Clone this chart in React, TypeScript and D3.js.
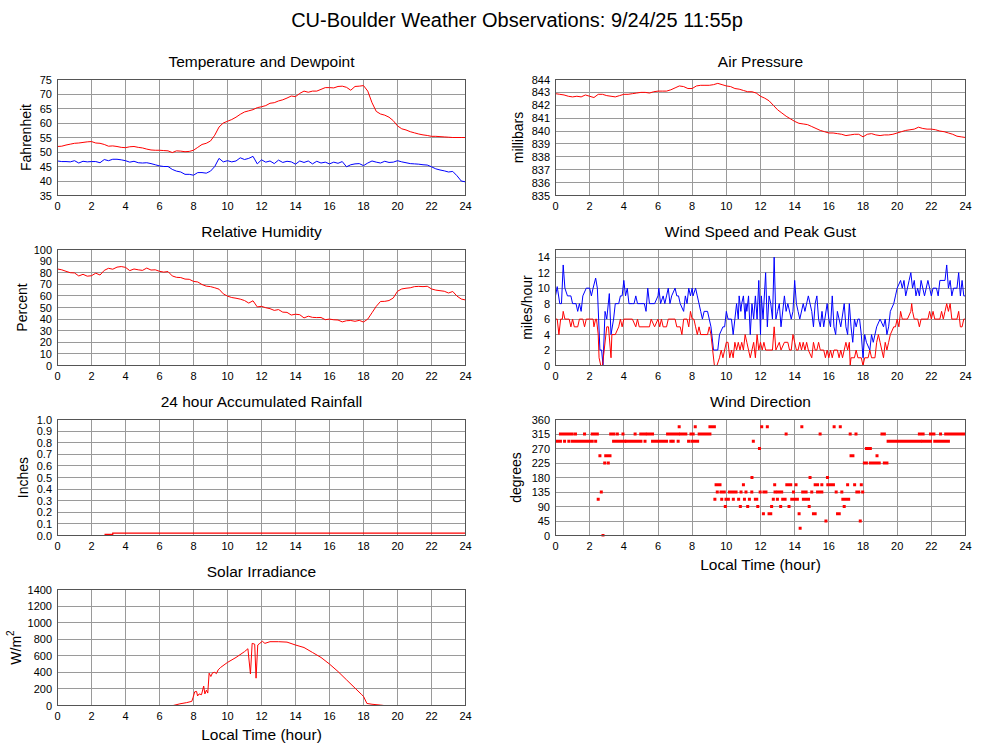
import React from 'react';
import * as d3 from 'd3';

// ---------- DATA ----------
const TITLE = 'CU-Boulder Weather Observations: 9/24/25 11:55p';
const HOUR_TICKS = [0, 2, 4, 6, 8, 10, 12, 14, 16, 18, 20, 22, 24];
const STEP = 0.25; // hours between samples of the smooth series

const temperature = [
  51.9, 52.0, 52.4, 52.7, 53.0, 53.1, 53.3, 53.5, 53.6, 53.1, 53.0, 52.6, 52.0, 52.1, 51.9, 51.6,
  51.5, 51.8, 51.9, 51.6, 51.4, 51.0, 50.7, 50.6, 50.6, 50.5, 50.4, 49.8, 50.4, 50.3, 50.1, 50.2,
  50.6, 51.6, 52.6, 53.0, 53.8, 55.8, 58.6, 60.0, 60.6, 61.2, 62.0, 63.0, 63.8, 64.2, 64.6, 65.3,
  65.6, 66.0, 66.8, 67.0, 67.6, 68.0, 68.6, 69.3, 69.1, 70.2, 71.0, 70.6, 71.0, 71.0, 71.6, 72.2,
  72.2, 72.1, 72.6, 72.7, 72.3, 71.3, 72.6, 72.7, 72.9, 71.0, 67.0, 64.0, 63.1, 62.7, 62.0, 60.8,
  59.0, 58.0, 57.6, 57.0, 56.6, 56.2, 55.9, 55.7, 55.4, 55.4, 55.3, 55.2, 55.1, 55.0, 55.0, 55.0, 55.0,
];

const dewpoint = [
  46.9, 46.7, 46.7, 46.6, 47.0, 46.2, 46.8, 46.6, 46.7, 46.7, 46.3, 47.4, 47.0, 47.5, 47.5, 47.3,
  47.0, 46.5, 46.8, 46.3, 46.2, 46.3, 46.0, 45.6, 45.2, 45.0, 45.0, 44.0, 43.4, 43.1, 42.3, 42.3,
  42.0, 42.9, 42.9, 42.7, 43.4, 45.0, 47.8, 46.6, 47.0, 46.6, 46.9, 48.0, 47.4, 47.8, 48.5, 45.9,
  47.3, 46.5, 46.9, 46.0, 47.2, 46.4, 46.8, 46.6, 45.8, 46.9, 46.4, 46.9, 45.9, 46.8, 46.2, 46.5,
  45.9, 46.5, 46.1, 46.7, 44.9, 45.6, 45.9, 46.0, 45.3, 46.2, 46.9, 46.5, 46.2, 46.8, 46.4, 46.5,
  47.0, 46.6, 46.3, 46.0, 45.9, 45.8, 45.6, 45.5, 44.9, 44.2, 43.8, 43.5, 43.1, 43.3, 41.8, 40.0, 39.7,
];

const pressure = [
  842.9, 842.85, 842.8, 842.7, 842.65, 842.7, 842.65, 842.8, 842.7, 842.6, 842.85, 842.85, 842.75, 842.7, 842.65, 842.75,
  842.85, 842.85, 842.9, 842.95, 843.0, 843.0, 842.95, 843.05, 843.1, 843.1, 843.1, 843.2, 843.35, 843.5, 843.45, 843.3,
  843.3, 843.5, 843.55, 843.55, 843.55, 843.6, 843.7, 843.6, 843.5, 843.45, 843.3, 843.25, 843.15, 843.05, 843.05, 842.95,
  842.7, 842.55, 842.35, 842.0, 841.65, 841.4, 841.15, 840.95, 840.75, 840.6, 840.55, 840.5, 840.35, 840.2, 840.05, 839.95,
  839.85, 839.85, 839.8, 839.75, 839.65, 839.7, 839.75, 839.75, 839.55, 839.75, 839.8, 839.7, 839.65, 839.7, 839.7, 839.75,
  839.85, 839.95, 840.05, 840.1, 840.15, 840.3, 840.2, 840.15, 840.15, 840.1, 840.0, 839.95, 839.85, 839.75, 839.6, 839.55, 839.5,
];

const humidity = [
  83.2, 82.5, 81.2, 80.0, 79.8, 77.2, 78.6, 77.0, 77.4, 79.6, 78.0, 82.0, 83.8, 83.0, 84.8, 85.3,
  84.6, 81.8, 83.2, 82.5, 82.0, 84.0, 82.3, 82.5, 81.2, 80.5, 81.0, 77.2, 76.0, 75.8, 74.5, 74.3,
  72.5, 72.0, 69.8, 68.4, 68.0, 67.0, 65.8, 61.8, 59.8, 58.6, 58.0, 57.2, 56.0, 53.8, 55.8, 50.5,
  51.0, 49.8, 49.0, 47.5, 48.2, 46.0, 45.8, 43.5, 44.2, 43.8, 41.0, 42.5, 41.5, 41.3, 41.4, 39.5,
  40.0, 39.4, 39.2, 37.6, 38.6, 38.8, 38.1, 38.9, 37.5, 40.0, 45.5, 51.0, 55.2, 55.3, 56.0, 58.2,
  64.0, 66.0, 66.6, 67.0, 68.0, 68.2, 68.0, 68.3, 66.0, 65.0, 64.5, 64.0, 62.5, 63.8, 59.8, 57.3, 56.5,
];

// [hour, mph]
const windGust: [number, number][] = [
  [0, 9], [0.1, 10.2], [0.25, 8], [0.35, 8], [0.45, 13], [0.55, 10], [0.7, 9], [0.9, 9], [1.0, 8], [1.2, 8],
  [1.3, 7], [1.4, 8], [1.5, 7], [1.6, 9], [1.8, 10], [2.0, 10], [2.1, 9], [2.2, 10], [2.35, 11.3], [2.45, 10],
  [2.6, 2], [2.7, 2], [2.78, 0], [2.9, 7], [3.0, 6], [3.15, 9.3], [3.25, 4], [3.4, 6], [3.5, 8], [3.7, 8],
  [3.8, 9], [3.9, 9], [4.0, 11], [4.1, 9], [4.2, 10], [4.3, 8], [4.5, 8], [4.6, 8], [4.7, 9], [4.8, 8],
  [5.0, 8], [5.2, 8], [5.3, 7], [5.4, 10], [5.5, 8], [5.8, 8], [6.0, 9], [6.05, 10], [6.15, 8], [6.3, 9],
  [6.4, 8], [6.5, 9], [6.6, 10], [6.7, 8], [6.8, 9], [7.0, 10], [7.1, 9], [7.2, 9], [7.3, 8], [7.5, 7],
  [7.6, 9], [7.7, 8], [7.8, 10], [7.9, 9], [8.0, 10], [8.05, 9], [8.2, 10], [8.3, 9], [8.4, 8], [8.5, 7],
  [8.6, 6], [8.7, 7], [8.9, 7], [9.0, 6], [9.1, 5], [9.25, 2], [9.5, 2], [9.6, 4], [9.8, 5], [9.9, 5],
  [10.0, 7], [10.1, 6], [10.3, 6], [10.4, 4], [10.5, 6], [10.6, 8], [10.7, 6], [10.75, 9], [10.85, 7], [10.9, 8],
  [11.0, 9], [11.1, 6], [11.15, 8], [11.2, 7], [11.3, 9], [11.4, 4], [11.5, 8], [11.6, 6], [11.7, 9], [11.8, 6],
  [11.9, 11], [12.0, 4], [12.05, 9], [12.15, 6], [12.3, 12], [12.4, 5], [12.5, 9], [12.6, 8], [12.7, 6], [12.8, 14],
  [12.9, 6], [13.0, 7], [13.1, 8], [13.2, 5], [13.4, 9], [13.5, 7], [13.6, 8], [13.8, 6], [13.9, 7], [14.0, 11],
  [14.1, 8], [14.2, 7], [14.3, 6], [14.5, 8], [14.6, 7], [14.8, 9], [15.0, 7], [15.1, 5], [15.2, 8], [15.3, 9],
  [15.4, 6], [15.5, 5], [15.6, 7], [15.7, 5], [15.9, 8], [16.0, 6], [16.1, 5], [16.2, 9], [16.3, 5], [16.4, 4],
  [16.5, 7], [16.6, 6], [16.7, 5], [16.9, 8], [17.0, 5], [17.1, 4], [17.2, 8], [17.3, 5], [17.4, 3], [17.5, 6],
  [17.6, 5], [17.7, 6], [17.8, 6], [17.9, 4], [18.0, 1], [18.1, 4], [18.2, 3], [18.4, 2], [18.5, 4], [18.6, 3],
  [18.8, 5], [19.0, 6], [19.2, 5], [19.3, 6], [19.4, 4], [19.5, 5], [19.6, 7], [19.8, 8], [19.9, 9], [20.0, 10],
  [20.2, 11], [20.3, 10], [20.4, 11], [20.5, 9], [20.7, 11], [20.8, 12], [20.9, 10], [21.0, 11], [21.1, 9], [21.2, 10],
  [21.3, 9], [21.4, 11], [21.5, 10], [21.6, 9], [21.8, 11], [21.9, 10], [22.0, 9], [22.1, 10], [22.3, 10], [22.4, 9],
  [22.5, 11], [22.8, 11], [22.9, 13], [23.0, 10], [23.1, 11], [23.2, 9], [23.3, 10], [23.5, 10], [23.6, 12], [23.7, 9],
  [23.8, 11], [23.9, 9], [24.0, 9],
];

const windSpeed: [number, number][] = [
  [0, 6], [0.1, 6], [0.2, 4], [0.3, 6], [0.4, 6], [0.45, 7], [0.55, 6], [0.8, 6], [0.9, 5], [1.0, 6],
  [1.1, 5], [1.3, 5], [1.4, 6], [1.6, 6], [1.7, 5], [1.8, 6], [2.0, 6], [2.2, 6], [2.25, 5], [2.35, 6],
  [2.4, 6], [2.5, 4], [2.55, 1], [2.65, 0], [2.75, 0], [2.85, 2], [3.0, 5], [3.1, 5], [3.25, 1], [3.3, 4],
  [3.5, 4], [3.7, 5], [3.8, 6], [3.9, 5], [4.0, 6], [4.5, 6], [4.7, 5], [4.8, 6], [4.9, 5], [5.5, 5],
  [5.6, 6], [5.8, 5], [6.0, 6], [6.1, 5], [6.2, 6], [6.3, 5], [6.5, 5], [6.6, 6], [7.0, 6], [7.1, 5],
  [7.3, 5], [7.4, 4], [7.5, 6], [7.7, 6], [7.8, 5], [7.9, 7], [8.0, 6], [8.1, 6], [8.2, 5], [8.3, 4],
  [8.4, 5], [8.5, 4], [8.9, 4], [9.0, 5], [9.1, 4], [9.2, 2], [9.3, 0], [9.45, 0], [9.6, 1], [9.7, 2],
  [9.8, 1], [9.9, 2], [10.0, 3], [10.1, 3], [10.2, 1], [10.3, 2], [10.4, 1], [10.5, 3], [10.6, 2], [10.7, 3],
  [10.8, 2], [10.9, 3], [11.0, 2], [11.1, 4], [11.2, 3], [11.3, 2], [11.4, 1], [11.5, 2], [11.6, 3], [11.7, 1],
  [11.8, 4], [11.9, 2], [12.0, 3], [12.1, 2], [12.2, 3], [12.3, 2], [12.5, 2], [12.7, 2], [12.8, 5], [12.9, 2],
  [13.1, 3], [13.2, 2], [13.4, 3], [13.6, 3], [13.7, 2], [13.8, 2], [13.9, 4], [14.0, 3], [14.1, 2], [14.2, 2],
  [14.3, 3], [14.4, 2], [14.5, 3], [14.6, 2], [14.7, 3], [14.8, 2], [15.0, 1], [15.1, 3], [15.2, 2], [15.3, 2],
  [15.4, 3], [15.5, 2], [15.7, 2], [15.8, 1], [15.9, 2], [16.0, 1], [16.1, 2], [16.2, 1], [16.3, 2], [16.5, 2],
  [16.6, 1], [16.7, 2], [16.8, 1], [17.0, 3], [17.1, 2], [17.2, 3], [17.25, 0], [17.3, 1], [17.5, 1], [17.6, 2],
  [17.7, 1], [17.9, 1], [18.0, 0], [18.1, 1], [18.3, 1], [18.4, 2], [18.5, 1], [18.7, 1], [18.8, 3], [18.9, 4],
  [19.0, 3], [19.1, 2], [19.2, 1], [19.3, 3], [19.4, 2], [19.5, 3], [19.6, 4], [19.8, 5], [19.9, 5], [20.0, 6],
  [20.1, 5], [20.2, 7], [20.3, 6], [20.5, 6], [20.6, 6], [20.8, 7], [20.85, 8], [20.9, 7], [21.0, 6], [21.2, 6],
  [21.3, 5], [21.4, 6], [21.8, 6], [21.9, 7], [22.0, 6], [22.1, 7], [22.2, 6], [22.5, 6], [22.6, 7], [22.7, 6],
  [22.8, 7], [22.9, 8], [23.0, 7], [23.1, 8], [23.2, 6], [23.5, 6], [23.6, 7], [23.7, 5], [23.8, 5], [23.9, 6],
  [24.0, 6],
];

// observed wind direction: [start hour, end hour, degrees] (one observation when start == end)
const windDirection: [number, number, number][] = [
  [0, 0.29, 292.5], [0.53, 0.53, 292.5], [0.78, 0.78, 292.5], [0.98, 2.15, 292.5], [2.35, 2.35, 292.5],
  [3.4, 4.05, 292.5], [4.15, 5.0, 292.5], [5.24, 5.24, 292.5], [5.68, 6.5, 292.5], [6.75, 6.75, 292.5],
  [6.89, 6.89, 292.5], [7.18, 7.18, 292.5], [7.79, 7.79, 292.5], [7.98, 8.32, 292.5], [11.58, 11.58, 292.5],
  [19.47, 21.36, 292.5], [21.5, 21.95, 292.5], [22.2, 23.0, 292.5],
  [0.29, 0.98, 315], [1.17, 1.17, 315], [1.7, 1.7, 315], [2.15, 2.45, 315], [3.23, 3.42, 315], [3.62, 3.62, 315],
  [3.95, 3.95, 315], [4.66, 4.66, 315], [4.99, 5.24, 315], [5.38, 5.68, 315], [6.56, 7.2, 315], [7.34, 7.63, 315],
  [7.93, 8.06, 315], [8.41, 9.04, 315], [13.5, 13.5, 315], [15.49, 15.49, 315], [17.25, 17.25, 315],
  [17.59, 17.59, 315], [19.11, 19.25, 315], [21.3, 21.52, 315], [21.95, 22.15, 315], [22.54, 22.54, 315],
  [22.84, 24, 315],
  [7.24, 7.24, 337.5], [8.18, 8.18, 337.5], [9.04, 9.3, 337.5], [12.07, 12.07, 337.5], [12.4, 12.4, 337.5],
  [14.42, 14.42, 337.5], [16.31, 16.31, 337.5], [16.67, 16.67, 337.5],
  [11.94, 11.94, 270], [18.2, 18.43, 270],
  [2.6, 2.6, 247.5], [2.94, 3.19, 247.5], [17.3, 17.41, 247.5], [18.82, 18.82, 247.5],
  [2.88, 2.88, 225], [3.09, 3.09, 225], [18.08, 18.2, 225], [18.43, 18.95, 225], [19.25, 19.4, 225],
  [11.5, 11.5, 180], [14.9, 14.9, 180], [15.92, 15.92, 180],
  [9.4, 9.63, 157.5], [11.0, 11.0, 157.5], [12.83, 12.83, 157.5], [13.54, 13.77, 157.5], [14.08, 14.08, 157.5],
  [15.2, 15.34, 157.5], [15.59, 15.59, 157.5], [15.94, 16.27, 157.5], [17.1, 17.1, 157.5], [17.51, 17.51, 157.5],
  [17.9, 17.9, 157.5],
  [2.68, 2.68, 135], [9.47, 9.47, 135], [9.69, 9.88, 135], [10.18, 10.57, 135], [10.86, 10.86, 135],
  [11.15, 11.15, 135], [11.49, 11.49, 135], [11.98, 11.98, 135], [12.2, 12.32, 135], [12.85, 12.85, 135],
  [13.0, 13.24, 135], [13.93, 13.93, 135], [14.47, 14.67, 135], [15.0, 15.0, 135], [15.34, 15.59, 135],
  [16.43, 16.43, 135], [16.76, 16.76, 135], [17.64, 17.75, 135], [17.98, 17.98, 135],
  [2.5, 2.5, 112.5], [9.33, 9.33, 112.5], [9.73, 9.73, 112.5], [9.98, 10.12, 112.5], [10.41, 10.41, 112.5],
  [10.72, 10.72, 112.5], [11.06, 11.06, 112.5], [11.35, 11.35, 112.5], [11.7, 11.78, 112.5], [12.75, 12.75, 112.5],
  [12.99, 12.99, 112.5], [13.3, 13.44, 112.5], [13.83, 14.16, 112.5], [14.51, 14.81, 112.5], [16.82, 17.16, 112.5],
  [9.94, 9.94, 90], [10.82, 10.82, 90], [11.25, 11.25, 90], [11.84, 11.84, 90], [12.65, 12.65, 90],
  [13.18, 13.18, 90], [13.67, 13.67, 90], [14.85, 14.85, 90], [16.9, 16.9, 90],
  [12.17, 12.17, 67.5], [12.5, 12.6, 67.5], [14.26, 14.26, 67.5], [15.1, 15.2, 67.5], [16.51, 16.61, 67.5],
  [15.83, 15.83, 45], [17.84, 17.84, 45],
  [14.32, 14.32, 22.5],
  [2.78, 2.78, 0],
];

const rainHours = [0, 2.8, 3.25, 24];
const rainInches = [0, 0.01, 0.02, 0.02];

// [hour, W/m2]
const solar: [number, number][] = [
  [0, 0], [6.8, 0], [7.2, 20], [7.6, 35], [7.9, 50], [7.98, 100], [8.07, 165], [8.18, 170], [8.24, 115],
  [8.33, 140], [8.47, 130], [8.6, 235], [8.67, 140], [8.76, 185], [8.84, 150], [8.92, 390], [9.02, 350],
  [9.12, 395], [9.25, 400], [9.35, 385], [9.45, 430], [9.6, 460], [10.0, 520], [10.5, 580], [11.0, 650],
  [11.2, 685], [11.35, 380], [11.45, 750], [11.6, 740], [11.68, 330], [11.78, 730], [11.9, 750], [12.05, 775],
  [12.2, 750], [12.5, 770], [13.0, 770], [13.5, 765], [14.0, 730], [14.5, 700], [15.0, 640], [15.5, 580],
  [16.0, 500], [16.5, 410], [17.0, 310], [17.5, 210], [17.9, 130], [18.0, 110], [18.2, 25], [18.5, 15],
  [19.0, 5], [19.2, 0], [24, 0],
];

// ---------- LAYOUT ----------
const FONT = '"Liberation Sans", Arial, Helvetica, sans-serif';
const COLS = [
  { left: 57.5, right: 465.5 },
  { left: 555.5, right: 965.5 },
];
const ROW_TOPS = [79.5, 249.5, 419.5, 589.5];
const PANEL_H = 116;
const GRID = '#9a9a9a';
const FRAME = '#555';

type PanelProps = {
  col: number;
  row: number;
  title: string;
  yDomain: [number, number];
  yTicks: number[];
  yFmt?: (v: number) => string;
  yLabel: React.ReactNode;
  yLabelX: number;
  xLabel?: boolean;
  children: (x: d3.ScaleLinear<number, number>, y: d3.ScaleLinear<number, number>) => React.ReactNode;
};

function Panel({ col, row, title, yDomain, yTicks, yFmt, yLabel, yLabelX, xLabel, children }: PanelProps) {
  const { left, right } = COLS[col];
  const top = ROW_TOPS[row];
  const bottom = top + PANEL_H;
  const x = d3.scaleLinear().domain([0, 24]).range([left, right]);
  const y = d3.scaleLinear().domain(yDomain).range([bottom, top]);
  const fmt = yFmt || ((v: number) => String(v));
  const crisp = (v: number) => Math.round(v - 0.5) + 0.5;
  const cx = (left + right) / 2;
  const clipId = `clip-${col}-${row}`;
  return (
    <g>
      <defs>
        <clipPath id={clipId}>
          <rect x={left} y={top - 1} width={right - left} height={PANEL_H + 2} />
        </clipPath>
      </defs>
      <text x={cx} y={top - 13} textAnchor="middle" fontSize={15.5} fontFamily={FONT} fill="#000">
        {title}
      </text>
      {yTicks.map((t) => (
        <line key={`h${t}`} x1={left} x2={right} y1={crisp(y(t))} y2={crisp(y(t))} stroke={GRID} strokeWidth={1} />
      ))}
      {HOUR_TICKS.map((t) => (
        <line key={`v${t}`} x1={crisp(x(t))} x2={crisp(x(t))} y1={top} y2={bottom} stroke={GRID} strokeWidth={1} />
      ))}
      <g clipPath={`url(#${clipId})`}>{children(x, y)}</g>
      <rect x={left} y={top} width={right - left} height={PANEL_H} fill="none" stroke={FRAME} strokeWidth={1} />
      {yTicks.map((t) => (
        <text key={`yl${t}`} x={left - 5.5} y={y(t) + 4} textAnchor="end" fontSize={11} fontFamily={FONT} fill="#000">
          {fmt(t)}
        </text>
      ))}
      {HOUR_TICKS.map((t) => (
        <text key={`xl${t}`} x={x(t)} y={bottom + 14} textAnchor="middle" fontSize={11} fontFamily={FONT} fill="#000">
          {t}
        </text>
      ))}
      <text
        transform={`translate(${yLabelX},${(top + bottom) / 2}) rotate(-90)`}
        textAnchor="middle"
        dominantBaseline="central"
        fontSize={14}
        fontFamily={FONT}
        fill="#000"
      >
        {yLabel}
      </text>
      {xLabel && (
        <text x={cx} y={bottom + 34} textAnchor="middle" fontSize={15.5} fontFamily={FONT} fill="#000">
          Local Time (hour)
        </text>
      )}
    </g>
  );
}

function regularLine(values: number[], x: d3.ScaleLinear<number, number>, y: d3.ScaleLinear<number, number>) {
  return d3
    .line<number>()
    .x((_, i) => x(i * STEP))
    .y((v) => y(v))(values) || '';
}

function pairLine(pairs: [number, number][], x: d3.ScaleLinear<number, number>, y: d3.ScaleLinear<number, number>) {
  return d3
    .line<[number, number]>()
    .x((d) => x(d[0]))
    .y((d) => y(d[1]))(pairs) || '';
}

export default function App() {
  return (
    <svg
      width={1000}
      height={745}
      viewBox="0 0 1000 745"
      style={{ position: 'absolute', left: 0, top: 0, background: '#fff' }}
    >
      <rect x={0} y={0} width={1000} height={745} fill="#fff" />
      <text x={517} y={27} textAnchor="middle" fontSize={20} fontFamily={FONT} fill="#000">
        {TITLE}
      </text>

      <Panel
        col={0}
        row={0}
        title="Temperature and Dewpoint"
        yDomain={[35, 75]}
        yTicks={[35, 40, 45, 50, 55, 60, 65, 70, 75]}
        yLabel="Fahrenheit"
        yLabelX={26}
      >
        {(x, y) => (
          <>
            <path d={regularLine(dewpoint, x, y)} fill="none" stroke="#0000ff" strokeWidth={1} />
            <path d={regularLine(temperature, x, y)} fill="none" stroke="#ff0000" strokeWidth={1} />
          </>
        )}
      </Panel>

      <Panel
        col={1}
        row={0}
        title="Air Pressure"
        yDomain={[835, 844]}
        yTicks={[835, 836, 837, 838, 839, 840, 841, 842, 843, 844]}
        yLabel="millibars"
        yLabelX={518}
      >
        {(x, y) => <path d={regularLine(pressure, x, y)} fill="none" stroke="#ff0000" strokeWidth={1} />}
      </Panel>

      <Panel
        col={0}
        row={1}
        title="Relative Humidity"
        yDomain={[0, 100]}
        yTicks={[0, 10, 20, 30, 40, 50, 60, 70, 80, 90, 100]}
        yLabel="Percent"
        yLabelX={22}
      >
        {(x, y) => <path d={regularLine(humidity, x, y)} fill="none" stroke="#ff0000" strokeWidth={1} />}
      </Panel>

      <Panel
        col={1}
        row={1}
        title="Wind Speed and Peak Gust"
        yDomain={[0, 15]}
        yTicks={[0, 2, 4, 6, 8, 10, 12, 14]}
        yLabel="miles/hour"
        yLabelX={527}
      >
        {(x, y) => (
          <>
            <path d={pairLine(windGust, x, y)} fill="none" stroke="#0000ff" strokeWidth={1} />
            <path d={pairLine(windSpeed, x, y)} fill="none" stroke="#ff0000" strokeWidth={1} />
          </>
        )}
      </Panel>

      <Panel
        col={0}
        row={2}
        title="24 hour Accumulated Rainfall"
        yDomain={[0, 1]}
        yTicks={[0, 0.1, 0.2, 0.3, 0.4, 0.5, 0.6, 0.7, 0.8, 0.9, 1.0]}
        yFmt={(v) => v.toFixed(1)}
        yLabel="Inches"
        yLabelX={23}
      >
        {(x, y) => (
          <path
            d={
              d3
                .line<number>()
                .curve(d3.curveStepAfter)
                .x((h) => x(h))
                .y((_, i) => y(rainInches[i]))(rainHours) || ''
            }
            fill="none"
            stroke="#ff0000"
            strokeWidth={1.2}
          />
        )}
      </Panel>

      <Panel
        col={1}
        row={2}
        title="Wind Direction"
        yDomain={[0, 360]}
        yTicks={[0, 45, 90, 135, 180, 225, 270, 315, 360]}
        yLabel="degrees"
        yLabelX={516}
        xLabel
      >
        {(x, y) => (
          <>
            {windDirection.map(([s, e, deg], i) => (
              <rect
                key={i}
                x={x(s) - 1.5}
                y={y(deg) - 1.5}
                width={x(e) - x(s) + 3}
                height={3}
                fill="#ff0000"
              />
            ))}
          </>
        )}
      </Panel>

      <Panel
        col={0}
        row={3}
        title="Solar Irradiance"
        yDomain={[0, 1400]}
        yTicks={[0, 200, 400, 600, 800, 1000, 1200, 1400]}
        yLabel={
          <>
            W/m<tspan dy={-6} fontSize={10}>2</tspan>
          </>
        }
        yLabelX={16}
        xLabel
      >
        {(x, y) => <path d={pairLine(solar, x, y)} fill="none" stroke="#ff0000" strokeWidth={1} />}
      </Panel>
    </svg>
  );
}
